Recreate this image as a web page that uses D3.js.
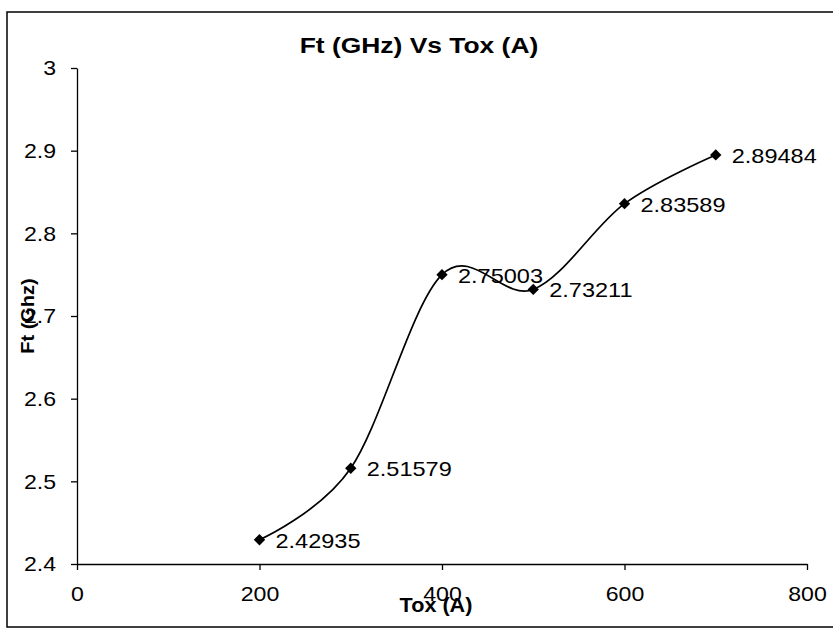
<!DOCTYPE html>
<html><head><meta charset="utf-8">
<script src="https://cdn.jsdelivr.net/npm/d3@7"></script>
<style>body{margin:0;background:#fff}svg{display:block}text{font-family:Arial,"Liberation Sans",sans-serif;fill:#000}</style>
</head><body>
<svg id="c" width="833" height="629"></svg>
<script>
const toxValues = [200, 300, 400, 500, 600, 700];
const ftValues = [2.42935, 2.51579, 2.75003, 2.73211, 2.83589, 2.89484];
const pointLabels = ["2.42935", "2.51579", "2.75003", "2.73211", "2.83589", "2.89484"];
const xTicks = [0, 200, 400, 600, 800];
const yTicks = [2.4, 2.5, 2.6, 2.7, 2.8, 2.9, 3];
const titleText = "Ft (GHz) Vs Tox (A)";
const xTitle = "Tox (A)";
const yTitle = "Ft (Ghz)";

const svg = d3.select("#c");
const x = d3.scaleLinear().domain([0, 800]).range([77, 807]);
const y = d3.scaleLinear().domain([2.4, 3]).range([564, 68]);

function stretch(sel, f) {
  sel.each(function(){ const w = this.getComputedTextLength(); d3.select(this).attr("textLength", w*f).attr("lengthAdjust","spacingAndGlyphs"); });
}

// frame
svg.append("rect").attr("x",7).attr("y",12).attr("width",840).attr("height",615)
  .attr("fill","none").attr("stroke","#000").attr("stroke-width",1.5);

// axes
const gx = svg.append("g").attr("transform","translate(0,564)")
  .call(d3.axisBottom(x).tickValues(xTicks).tickSizeOuter(0).tickSizeInner(6).tickPadding(16).tickFormat(d3.format("d")));
const gy = svg.append("g").attr("transform","translate(77,0)")
  .call(d3.axisLeft(y).tickValues(yTicks).tickSizeOuter(0).tickSizeInner(6).tickPadding(15).tickFormat(d => d===3 ? "3" : d3.format(".1f")(d)));
[gx, gy].forEach(g => {
  g.select(".domain").attr("stroke","#000").attr("stroke-width",1.3);
  g.selectAll(".tick line").attr("stroke","#000").attr("stroke-width",1.3);
  g.selectAll(".tick text").attr("font-size",21).attr("font-family","Arial, 'Liberation Sans', sans-serif").attr("fill","#000");
  stretch(g.selectAll(".tick text"), 1.1);
});
gx.selectAll(".tick text").attr("dy","0.71em");

// line
const data = toxValues.map((t,i)=>({t, f: ftValues[i], label: pointLabels[i]}));
svg.append("path").datum(data)
  .attr("d", d3.line().x(d=>x(d.t)).y(d=>y(d.f)).curve(d3.curveCardinal.tension(0)))
  .attr("fill","none").attr("stroke","#000").attr("stroke-width",1.7);

svg.selectAll(".pt").data(data).enter().append("path")
  .attr("transform", d=>`translate(${x(d.t)},${y(d.f)}) rotate(45)`)
  .attr("d", d3.symbol(d3.symbolSquare, 64)).attr("fill","#000");

const lbl = svg.selectAll(".lbl").data(data).enter().append("text")
  .attr("x", d=>x(d.t)+16).attr("y", d=>y(d.f)+8)
  .attr("font-size",21).text(d=>d.label);
stretch(lbl, 1.12);

// titles
const tt = svg.append("text").attr("x",419).attr("y",53).attr("text-anchor","middle")
  .attr("font-size",22).attr("font-weight","bold").text(titleText);
stretch(tt, 1.2);
const xt = svg.append("text").attr("x",436).attr("y",612).attr("text-anchor","middle")
  .attr("font-size",20).attr("font-weight","bold").text(xTitle);
stretch(xt, 1.08);
const yt = svg.append("text").attr("transform","translate(34,316) rotate(-90)").attr("text-anchor","middle")
  .attr("font-size",19).attr("font-weight","bold").text(yTitle);
stretch(yt, 1.05);
</script>
</body></html>
